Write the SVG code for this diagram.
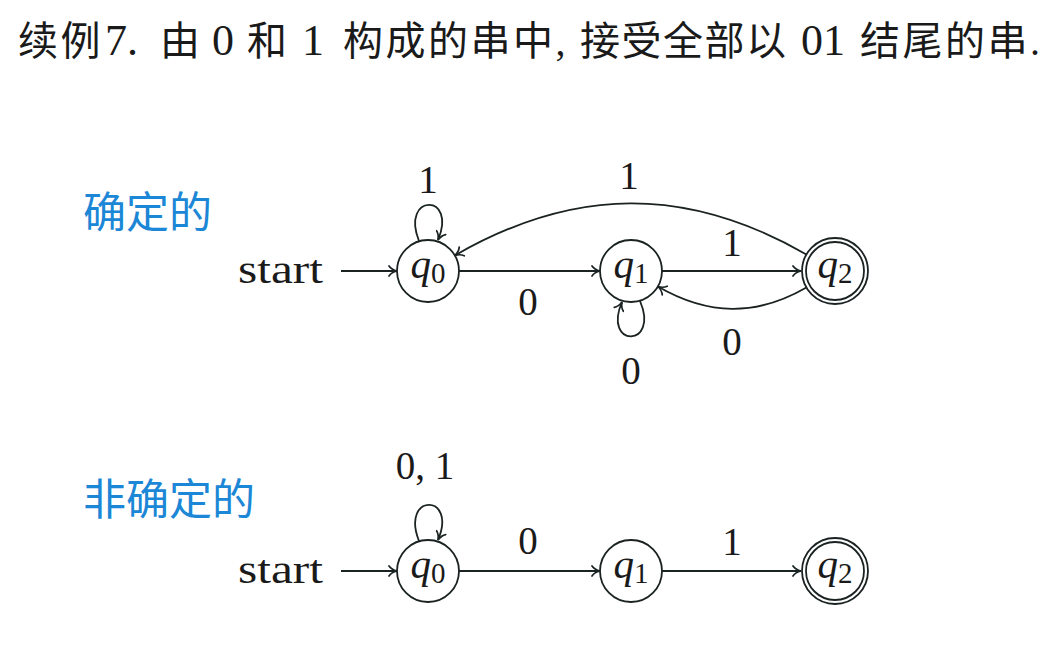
<svg xmlns="http://www.w3.org/2000/svg" width="1054" height="660" viewBox="0 0 1054 660">
<defs>
<marker id="arr" viewBox="-10 -6 12 12" refX="0" refY="0" markerWidth="12" markerHeight="12" markerUnits="userSpaceOnUse" orient="auto">
<path d="M -8 -5 C -6 -2, -2.5 -0.6, 0 0 C -2.5 0.6, -6 2, -8 5" fill="none" stroke="#1a2222" stroke-width="1.7" stroke-linecap="round"/>
</marker>
<style>
.t{font-family:"Liberation Serif","Noto Sans CJK SC",serif;font-size:44px;fill:#1a1a1a}
.tc{font-family:"Noto Sans CJK SC","Liberation Serif",sans-serif;font-size:40px;fill:#1a1a1a;letter-spacing:2.5px}
.h{font-family:"Noto Sans CJK SC",sans-serif;font-size:43px;fill:#1b87d6}
.lab{font-family:"Liberation Serif",serif;font-size:39px;fill:#1a1a1a;text-anchor:middle}
.st{font-family:"Liberation Serif",serif;font-size:41px;fill:#1a1a1a}
.q{font-family:"Liberation Serif",serif;font-size:41px;font-style:italic;fill:#1a1a1a;text-anchor:middle}
.sub{font-size:29px;font-style:normal}
.node{fill:#fff;stroke:#1a2222;stroke-width:1.8}
.e{fill:none;stroke:#1a2222;stroke-width:1.8;marker-end:url(#arr)}
</style>
</defs>
<rect width="1054" height="660" fill="#fff"/>
<g id="title">
<text class="tc" x="18" y="55">续例</text>
<text class="t" x="105" y="55">7.</text>
<text class="tc" x="160" y="55">由</text>
<text class="t" x="212" y="55">0</text>
<text class="tc" x="247" y="55">和</text>
<text class="t" x="302" y="55">1</text>
<text class="tc" x="343" y="55">构成的串中<tspan style="font-family:'Liberation Serif'">,</tspan></text>
<text class="tc" x="580" y="55" style="letter-spacing:1.5px">接受全部以</text>
<text class="t" x="801" y="55">01</text>
<text class="tc" x="860" y="55">结尾的串<tspan style="font-family:'Liberation Serif'">.</tspan></text>
</g>
<text class="h" x="83" y="228">确定的</text>
<text class="h" x="83" y="515">非确定的</text>
<g id="connectors">
<path class="e" d="M341,271 L397,271"/>
<path class="e" d="M459,271 L600,271"/>
<path class="e" d="M662,271 L801,271"/>
<path class="e" d="M806.4,254.5 C687,185.6 574,186.6 454.8,255.5"/>
<path class="e" d="M806.4,287.5 C756,316.6 708.2,315.6 657.8,286.5"/>
<path class="e" d="M419,241 C400,193 458,193 438,240"/>
<path class="e" d="M640,301 C660,348 602,348 622,302"/>
<path class="e" d="M341,571 L397,571"/>
<path class="e" d="M459,571 L600,571"/>
<path class="e" d="M662,571 L801,571"/>
<path class="e" d="M419,541 C400,493 458,493 438,540"/>
</g>
<g id="labels">
<text class="st" x="238" y="283" textLength="85" lengthAdjust="spacingAndGlyphs">start</text>
<text class="lab" x="428" y="193">1</text>
<text class="lab" x="629" y="189">1</text>
<text class="lab" x="732" y="256">1</text>
<text class="lab" x="528" y="315">0</text>
<text class="lab" x="631" y="384">0</text>
<text class="lab" x="732" y="355">0</text>
<text class="st" x="238" y="583" textLength="85" lengthAdjust="spacingAndGlyphs">start</text>
<text class="lab" x="425" y="479">0, 1</text>
<text class="lab" x="528" y="554">0</text>
<text class="lab" x="732" y="555">1</text>
</g>
<g id="dfa-q0"><circle class="node" cx="428" cy="271" r="31"/><text class="q" x="428" y="278">q<tspan class="sub" dy="5">0</tspan></text></g>
<g id="dfa-q1"><circle class="node" cx="631" cy="271" r="31"/><text class="q" x="631" y="278">q<tspan class="sub" dy="5">1</tspan></text></g>
<g id="dfa-q2"><circle class="node" cx="835" cy="271" r="33"/><circle class="node" cx="835" cy="271" r="29"/><text class="q" x="835" y="278">q<tspan class="sub" dy="5">2</tspan></text></g>
<g id="nfa-q0"><circle class="node" cx="428" cy="571" r="31"/><text class="q" x="428" y="578">q<tspan class="sub" dy="5">0</tspan></text></g>
<g id="nfa-q1"><circle class="node" cx="631" cy="571" r="31"/><text class="q" x="631" y="578">q<tspan class="sub" dy="5">1</tspan></text></g>
<g id="nfa-q2"><circle class="node" cx="835" cy="571" r="33"/><circle class="node" cx="835" cy="571" r="29"/><text class="q" x="835" y="578">q<tspan class="sub" dy="5">2</tspan></text></g>
</svg>
